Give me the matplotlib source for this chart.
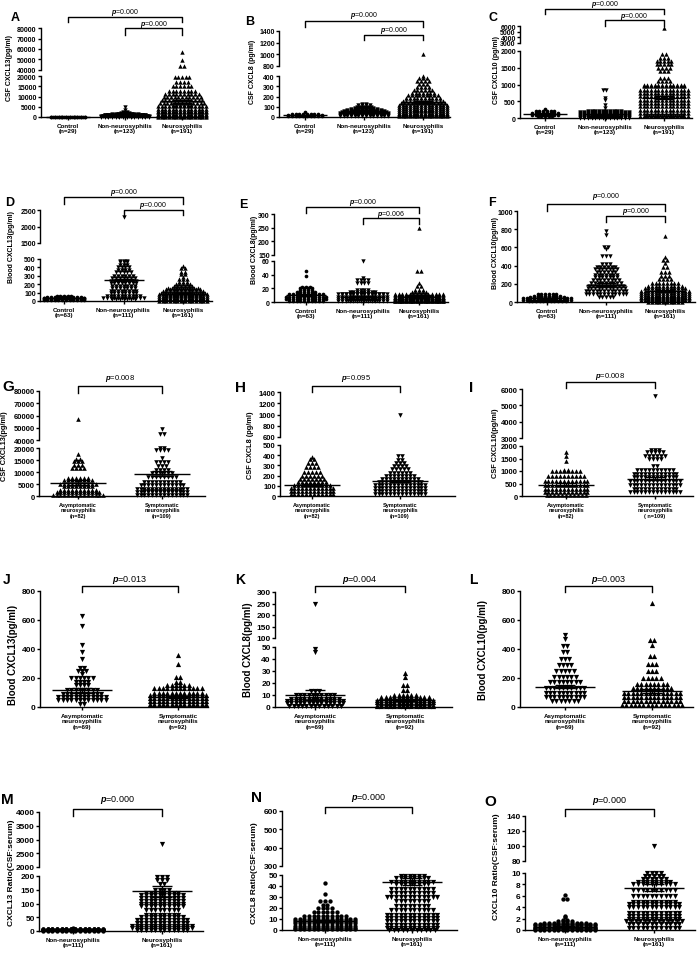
import numpy as np
import matplotlib
matplotlib.use('Agg')
import matplotlib.pyplot as plt
from matplotlib.transforms import blended_transform_factory

plt.rcParams['font.family'] = ['Liberation Sans', 'DejaVu Sans']
plt.rcParams['font.weight'] = 'bold'
plt.rcParams['mathtext.fontset'] = 'custom'
plt.rcParams['mathtext.it'] = 'Liberation Sans:italic'
plt.rcParams['mathtext.rm'] = 'Liberation Sans'

# ---------------- data (rows of the column scatter: value levels and counts) ----------------
three_csf = ['Control\n(n=29)', 'Non-neurosyphilis\n(n=123)', 'Neurosyphilis\n(n=191)']
three_blood = ['Control\n(n=63)', 'Non-neurosyphilis\n(n=111)', 'Neurosyphilis\n(n=161)']
asym_sym_csf = ['Asymptomatic\nneurosyphilis\n(n=82)', 'Symptomatic\nneurosyphilis\n(n=109)']
asym_sym_csf_i = ['Asymptomatic\nneurosyphilis\n(n=82)', 'Symptomatic\nneurosyphilis\n( n=109)']
asym_sym_blood = ['Asymptomatic\nneurosyphilis\n(n=69)', 'Symptomatic\nneurosyphilis\n(n=92)']
ratio_labels = ['Non-neurosyphilis\n(n=111)', 'Neurosyphilis\n(n=161)']

a_levels = [[0, 100, 200],
            [0, 150, 300, 450, 600, 750, 900, 1100, 1300, 1600, 2000, 2600, 3500, 4800],
            [0, 500, 1000, 1500, 2500, 3000, 4000, 5500, 6000, 7000, 8500, 10000, 11500,
             13000, 15000, 17000, 19500, 44000, 49000, 57000]]
a_counts = [[10, 10, 9],
            [14, 14, 14, 13, 13, 12, 12, 10, 8, 5, 3, 2, 1, 1],
            [14, 14, 14, 14, 14, 14, 14, 14, 6, 13, 12, 11, 10, 8, 6, 4, 5, 2, 1, 1]]
a_mean = [100, 550, 7800]
a_sem = [20, 80, 700]

b_levels = [[5, 15, 25, 50],
            [5, 15, 25, 35, 45, 55, 60, 65, 75, 85, 100, 115, 130],
            [5, 20, 30, 40, 60, 70, 80, 100, 120, 140, 160, 185, 210, 235, 260, 290, 320,
             350, 380, 400, 1000]]
b_counts = [[10, 10, 8, 1],
            [14, 14, 14, 14, 13, 12, 7, 10, 8, 6, 5, 4, 2],
            [14, 14, 14, 14, 14, 6, 14, 14, 14, 13, 12, 10, 9, 7, 6, 4, 3, 4, 3, 1, 1]]
b_mean = [15, 38, 145]
b_sem = [2, 3, 8]

c_levels = [[50, 100, 130, 150, 200, 280],
            [10, 25, 40, 70, 100, 130, 160, 190, 220, 300, 400, 550, 600, 850],
            [50, 100, 150, 250, 350, 450, 550, 650, 750, 850, 950, 1000, 1100, 1200, 1400,
             1500, 1600, 1700, 1800, 1900, 5600]]
c_counts = [[5, 8, 1, 8, 6, 1],
            [14, 9, 14, 14, 14, 14, 14, 14, 10, 1, 1, 1, 1, 2],
            [14, 11, 14, 14, 14, 14, 14, 14, 14, 14, 12, 12, 4, 3, 3, 4, 5, 5, 3, 2, 1]]
c_mean = [130, 110, 600]
c_sem = [10, 12, 45]

d_levels = [[10, 20, 30, 40, 50, 60],
            [20, 40, 60, 90, 120, 150, 180, 210, 240, 270, 300, 340, 370, 400, 430, 460, 480, 2300],
            [5, 20, 30, 40, 60, 70, 80, 100, 120, 140, 160, 180, 200, 230, 260, 290, 320, 350,
             390, 420]]
d_counts = [[12, 12, 12, 12, 10, 5],
            [7, 12, 10, 8, 8, 7, 7, 8, 8, 7, 6, 5, 4, 4, 3, 3, 3, 1],
            [14, 14, 12, 14, 14, 10, 14, 13, 12, 10, 9, 6, 5, 3, 3, 1, 2, 2, 2, 1]]
d_mean = [30, 250, 85]
d_sem = [2, 15, 7]

e_levels = [[2, 5, 8, 11, 14, 18, 20, 22, 38, 45],
            [2, 3, 5, 6, 8, 11, 12, 14, 18, 28, 32, 35, 60],
            [1, 2, 3, 4, 5, 6, 7, 8, 9, 10, 12, 15, 18, 24, 28, 46, 250]]
e_counts = [[10, 12, 12, 10, 6, 4, 4, 3, 1, 1],
            [14, 9, 14, 12, 14, 14, 12, 8, 4, 4, 4, 1, 1],
            [14, 14, 14, 14, 14, 14, 14, 14, 7, 14, 14, 5, 3, 2, 1, 2, 1]]
e_mean = [10, 8, 8]
e_sem = [1, 0.8, 1.6]

f_levels = [[10, 25, 40, 55, 70, 90],
            [60, 90, 120, 150, 180, 210, 240, 270, 300, 330, 360, 390, 420, 510, 580, 600, 740, 780],
            [5, 20, 30, 40, 60, 70, 80, 100, 120, 150, 180, 210, 250, 290, 330, 380, 430, 460,
             490, 720]]
f_counts = [[11, 14, 14, 10, 8, 6],
            [5, 12, 12, 11, 10, 9, 8, 7, 7, 6, 7, 6, 3, 3, 1, 2, 1, 1],
            [10, 14, 10, 14, 14, 10, 14, 14, 14, 12, 10, 8, 4, 3, 3, 2, 1, 2, 1, 1]]
f_mean = [40, 190, 120]
f_sem = [3, 15, 9]

g_levels = [[500, 1500, 2500, 4000, 5000, 6500, 7500, 11500, 13000, 14500, 15500, 17500, 57000],
            [500, 1500, 2200, 3000, 4500, 6000, 8000, 9500, 11000, 12500, 14000, 16000, 19000,
             20000, 45000, 49000]]
g_counts = [[14, 12, 10, 8, 10, 8, 6, 4, 3, 3, 2, 1, 1],
            [14, 14, 10, 14, 12, 10, 8, 6, 4, 3, 4, 1, 4, 2, 2, 1]]
g_mean = [5500, 9300]
g_sem = [1000, 1100]

h_levels = [[20, 50, 80, 110, 140, 170, 200, 240, 280, 320, 360, 380],
            [20, 50, 80, 110, 140, 170, 200, 230, 260, 290, 320, 350, 390, 1000]]
h_counts = [[12, 12, 12, 10, 8, 7, 6, 5, 4, 3, 2, 1],
            [14, 14, 14, 14, 12, 10, 8, 6, 5, 4, 3, 2, 2, 1]]
h_mean = [110, 145]
h_sem = [10, 12]

i_levels = [[50, 150, 300, 450, 600, 800, 1000, 1050, 1400, 1600, 1750],
            [150, 300, 450, 600, 750, 900, 1050, 1200, 1500, 1600, 1750, 1850, 5600]]
i_counts = [[11, 12, 12, 12, 12, 10, 8, 2, 1, 1, 1],
            [14, 12, 14, 14, 12, 12, 10, 2, 4, 6, 5, 3, 1]]
i_mean = [460, 700]
i_sem = [45, 70]

j_levels = [[20, 45, 70, 90, 120, 150, 170, 200, 230, 250, 270, 330, 380, 430, 560, 630],
            [20, 40, 60, 80, 100, 130, 150, 170, 210, 295, 360]]
j_counts = [[2, 12, 12, 10, 8, 4, 4, 6, 1, 3, 2, 1, 1, 1, 1, 1],
            [14, 14, 14, 14, 12, 12, 6, 2, 2, 1, 1]]
j_mean = [115, 70]
j_sem = [15, 7]

k_levels = [[1, 3, 5, 7, 10, 13, 46, 48, 250],
            [1, 2, 3, 4, 6, 8, 10, 14, 18, 25, 28]]
k_counts = [[13, 14, 14, 12, 10, 3, 1, 1, 1],
            [14, 14, 12, 14, 14, 12, 6, 2, 2, 1, 1]]
k_mean = [10, 6]
k_sem = [4, 0.8]

l_levels = [[40, 70, 100, 130, 170, 210, 250, 290, 330, 380, 420, 470, 500],
            [15, 40, 70, 100, 130, 160, 200, 250, 300, 350, 430, 460, 720]]
l_counts = [[7, 10, 10, 10, 8, 6, 5, 4, 3, 2, 2, 1, 1],
            [15, 14, 14, 14, 10, 8, 5, 3, 3, 2, 1, 2, 1]]
l_mean = [140, 110]
l_sem = [12, 12]

m_levels = [[1, 2, 3, 4, 5, 6, 7, 8, 12],
            [3, 10, 20, 30, 40, 50, 60, 75, 90, 100, 110, 120, 130, 140, 150, 170, 185, 195, 2850]]
m_counts = [[14, 14, 14, 14, 14, 14, 14, 12, 1],
            [12, 14, 14, 12, 12, 10, 8, 8, 10, 10, 10, 10, 10, 8, 4, 2, 3, 3, 1]]
m_mean = [3, 145]
m_sem = [0.3, 20]

n_levels = [[1, 2, 4, 6, 8, 10, 13, 16, 20, 23, 26, 33, 43],
            [0, 2, 5, 8, 11, 14, 18, 22, 26, 30, 34, 37, 42, 44, 47, 49]]
n_counts = [[14, 14, 14, 14, 14, 14, 10, 6, 4, 2, 3, 1, 1],
            [11, 12, 12, 12, 12, 12, 10, 8, 8, 12, 10, 10, 8, 10, 8, 6]]
n_mean = [8, 44]
n_sem = [0.7, 3]

o_levels = [[0.05, 0.2, 0.3, 0.4, 0.6, 0.8, 1.0, 1.2, 1.5, 1.8, 2.2, 2.5, 5.5, 6.1],
            [0.3, 1, 1.5, 2, 2.5, 3, 4, 4.5, 5, 6, 7, 8, 8.5, 9, 9.5, 10, 100]]
o_counts = [[14, 14, 6, 14, 14, 14, 14, 10, 4, 2, 1, 1, 2, 1],
            [12, 12, 13, 12, 12, 12, 12, 12, 10, 10, 10, 10, 8, 6, 5, 4, 1]]
o_mean = [0.6, 7.4]
o_sem = [0.1, 0.6]

# ---------------- layout ----------------
W, H = 700, 954
fig = plt.figure(figsize=(W / 100, H / 100), dpi=100)

ROW = {
    1: dict(tick=5, ylab=5, xlab=4.5, p=5, letter=9, ms=10, step=3.7, half=22),
    2: dict(tick=5, ylab=5, xlab=4.5, p=5, letter=9, ms=10, step=3.7, half=20),
    3: dict(tick=5.5, ylab=5.3, xlab=4, p=5.5, letter=11, ms=11, step=3.9, half=28),
    4: dict(tick=6, ylab=7, xlab=4.5, p=6.5, letter=10, ms=14, step=4.3, half=30),
    5: dict(tick=6, ylab=6, xlab=4.5, p=6.5, letter=11, ms=14, step=4.6, half=30),
}

LW = 1.0


def add_px_axes(x0, x1, ybot, ytop):
    return fig.add_axes([x0 / W, 1 - ybot / H, (x1 - x0) / W, (ybot - ytop) / H])


def panel(sp):
    st = ROW[sp['row']]
    x0, x1 = sp['x']
    gx = sp['gx']
    n = len(gx)
    s = (gx[-1] - gx[0]) / (n - 1)
    xlim = (-(gx[0] - x0) / s, n - 1 + (x1 - gx[-1]) / s)
    axs = []
    for k, (lo, hi, ybot, ytop, ticks) in enumerate(sp['segs']):
        ax = add_px_axes(x0, x1, ybot, ytop)
        ax.set_xlim(*xlim)
        ax.set_ylim(lo, hi)
        ax.patch.set_alpha(0)
        ax.spines['top'].set_visible(False)
        ax.spines['right'].set_visible(False)
        ax.spines['left'].set_linewidth(LW)
        ax.spines['bottom'].set_linewidth(LW)
        ax.set_yticks(ticks)
        ax.tick_params(axis='y', labelsize=st['tick'], length=2, width=LW, pad=1)
        if k == 0:
            ax.set_xticks(range(n))
            ax.set_xticklabels(sp['labels'], fontsize=st['xlab'], linespacing=1.15)
            ax.tick_params(axis='x', length=2, width=LW, pad=2)
        else:
            ax.spines['bottom'].set_visible(False)
            ax.set_xticks([])
        axs.append(ax)

    lower_hi = sp['segs'][0][1]

    def pick(v):
        return axs[0] if v <= lower_hi or len(axs) == 1 else axs[1]

    for g in range(n):
        mk = sp['markers'][g]
        size = st['ms'] * (0.7 if mk == 'o' else 1.0)
        for v, c in zip(sp['levels'][g], sp['counts'][g]):
            xs = g + (np.arange(c) - (c - 1) / 2) * st['step'] / s
            pick(v).scatter(xs, np.full(c, v), marker=mk, s=size, c='k', linewidths=0,
                            clip_on=False, zorder=3)
        m, e = sp['mean'][g], sp['sem'][g]
        ax = pick(m)
        hw, cw = st['half'] / s, 10 / s
        kw = dict(color='k', lw=LW, zorder=4, clip_on=False, solid_capstyle='butt')
        ax.plot([g - hw, g + hw], [m, m], **kw)
        ax.plot([g, g], [m - e, m + e], **kw)
        ax.plot([g - cw, g + cw], [m + e, m + e], **kw)
        ax.plot([g - cw, g + cw], [m - e, m - e], **kw)

    top = axs[-1]
    tr = blended_transform_factory(top.transData, fig.transFigure)
    for i, j, yl, yg, yt, p in sp['brackets']:
        top.plot([i, i, j, j], [1 - yg / H, 1 - yl / H, 1 - yl / H, 1 - yg / H],
                 transform=tr, color='k', lw=1.0, clip_on=False)
        top.text((i + j) / 2, 1 - yt / H, r'$p$=' + p, transform=tr, ha='center',
                 va='center', fontsize=st['p'], fontweight='normal')

    lx, ly = sp['ylab_xy']
    fig.text(lx / W, 1 - ly / H, sp['ylabel'], rotation=90, ha='center', va='center',
             fontsize=st['ylab'])
    px, py = sp['letter_xy']
    fig.text(px / W, 1 - py / H, sp['letter'], ha='center', va='center',
             fontsize=st['letter'])


tri3 = ['o', 'v', '^']
specs = [
    dict(letter='A', row=1, x=(40.7, 202), gx=[68, 127, 182], labels=three_csf,
         segs=[(0, 20000, 118, 77.3, [0, 5000, 10000, 15000, 20000]),
               (40000, 80000, 70.7, 29.3, [40000, 50000, 60000, 70000, 80000])],
         levels=a_levels, counts=a_counts, mean=a_mean, sem=a_sem, markers=tri3,
         brackets=[(0, 2, 18.3, 23.3, 12.7, '0.000'), (1, 2, 29.3, 35.7, 25, '0.000')],
         ylabel='CSF CXCL13(pg/ml)', ylab_xy=(10, 68), letter_xy=(15, 18)),
    dict(letter='B', row=1, x=(279, 450), gx=[305, 359, 423], labels=three_csf,
         segs=[(0, 400, 118, 77, [0, 100, 200, 300, 400]),
               (800, 1400, 67, 32, [800, 1000, 1200, 1400])],
         levels=b_levels, counts=b_counts, mean=b_mean, sem=b_sem, markers=tri3,
         brackets=[(0, 2, 22.3, 28, 15.7, '0.000'), (1, 2, 36, 40.7, 30, '0.000')],
         ylabel='CSF CXCL8 (pg/ml)', ylab_xy=(253, 72), letter_xy=(250, 22)),
    dict(letter='C', row=1, x=(520, 692), gx=[545, 600, 664], labels=three_csf,
         segs=[(0, 2000, 119, 52, [0, 500, 1000, 1500, 2000]),
               (3000, 6000, 44, 27, [3000, 4000, 5000, 6000])],
         levels=c_levels, counts=c_counts, mean=c_mean, sem=c_sem, markers=tri3,
         brackets=[(0, 2, 10, 15, 4, '0.000'), (1, 2, 21, 26.7, 16, '0.000')],
         ylabel='CSF CXCL10 (pg/ml)', ylab_xy=(497, 70), letter_xy=(493, 18)),
    dict(letter='D', row=2, x=(40, 212), gx=[64, 125, 183], labels=three_blood,
         segs=[(0, 500, 302, 260, [0, 100, 200, 300, 400, 500]),
               (1500, 2500, 244, 211, [1500, 2000, 2500])],
         levels=d_levels, counts=d_counts, mean=d_mean, sem=d_sem, markers=tri3,
         brackets=[(0, 2, 197.7, 205, 193, '0.000'), (1, 2, 210.7, 216, 205.7, '0.000')],
         ylabel='Blood CXCL13(pg/ml)', ylab_xy=(12, 247), letter_xy=(10, 203)),
    dict(letter='E', row=2, x=(274, 448), gx=[306, 362, 419], labels=three_blood,
         segs=[(0, 60, 303, 262, [0, 20, 40, 60]),
               (150, 300, 256, 215, [150, 200, 250, 300])],
         levels=e_levels, counts=e_counts, mean=e_mean, sem=e_sem, markers=tri3,
         brackets=[(0, 2, 208.3, 214, 202, '0.000'), (1, 2, 219, 225, 214, '0.006')],
         ylabel='Blood CXCL8(pg/ml)', ylab_xy=(254, 250), letter_xy=(243, 205)),
    dict(letter='F', row=2, x=(517, 695), gx=[547, 607, 665], labels=three_blood,
         segs=[(0, 1000, 303, 212, [0, 200, 400, 600, 800, 1000])],
         levels=f_levels, counts=f_counts, mean=f_mean, sem=f_sem, markers=tri3,
         brackets=[(0, 2, 205, 211.7, 197, '0.000'), (1, 2, 216.7, 223, 211.7, '0.000')],
         ylabel='Blood CXCL10(pg/ml)', ylab_xy=(495, 253), letter_xy=(492, 203)),
    dict(letter='G', row=3, x=(39, 205), gx=[78, 162], labels=asym_sym_csf,
         segs=[(0, 20000, 497, 449, [0, 5000, 10000, 15000, 20000]),
               (40000, 80000, 441, 392, [40000, 50000, 60000, 70000, 80000])],
         levels=g_levels, counts=g_counts, mean=g_mean, sem=g_sem, markers=['^', 'v'],
         brackets=[(0, 1, 387.3, 394, 378, '0.008')],
         ylabel='CSF CXCL13(pg/ml)', ylab_xy=(5, 446), letter_xy=(8, 387)),
    dict(letter='H', row=3, x=(280, 455), gx=[312, 400], labels=asym_sym_csf,
         segs=[(0, 500, 497, 446, [0, 100, 200, 300, 400, 500]),
               (600, 1400, 438, 393, [600, 800, 1000, 1200, 1400])],
         levels=h_levels, counts=h_counts, mean=h_mean, sem=h_sem, markers=['^', 'v'],
         brackets=[(0, 1, 387, 393, 378, '0.095')],
         ylabel='CSF CXCL8 (pg/ml)', ylab_xy=(250, 445), letter_xy=(240, 388)),
    dict(letter='I', row=3, x=(522, 693), gx=[566, 655], labels=asym_sym_csf_i,
         segs=[(0, 2000, 497, 447, [0, 500, 1000, 1500, 2000]),
               (3000, 6000, 439, 390, [3000, 4000, 5000, 6000])],
         levels=i_levels, counts=i_counts, mean=i_mean, sem=i_sem, markers=['^', 'v'],
         brackets=[(0, 1, 383, 389, 377, '0.008')],
         ylabel='CSF CXCL10(pg/ml)', ylab_xy=(496, 443), letter_xy=(471, 388)),
    dict(letter='J', row=4, x=(40, 208), gx=[82, 178], labels=asym_sym_blood,
         segs=[(0, 800, 708, 592, [0, 200, 400, 600, 800])],
         levels=j_levels, counts=j_counts, mean=j_mean, sem=j_sem, markers=['v', '^'],
         brackets=[(0, 1, 586.7, 593, 580, '0.013')],
         ylabel='Blood CXCL13(pg/ml)', ylab_xy=(13, 655), letter_xy=(7, 580)),
    dict(letter='K', row=4, x=(275, 452), gx=[315, 405], labels=asym_sym_blood,
         segs=[(0, 50, 708, 648, [0, 10, 20, 30, 40, 50]),
               (100, 300, 639, 593, [100, 150, 200, 250, 300])],
         levels=k_levels, counts=k_counts, mean=k_mean, sem=k_sem, markers=['v', '^'],
         brackets=[(0, 1, 587, 593, 580, '0.004')],
         ylabel='Blood CXCL8(pg/ml)', ylab_xy=(248, 650), letter_xy=(240, 580)),
    dict(letter='L', row=4, x=(520, 693), gx=[565, 652], labels=asym_sym_blood,
         segs=[(0, 800, 708, 592, [0, 200, 400, 600, 800])],
         levels=l_levels, counts=l_counts, mean=l_mean, sem=l_sem, markers=['v', '^'],
         brackets=[(0, 1, 587, 593, 580, '0.003')],
         ylabel='Blood CXCL10(pg/ml)', ylab_xy=(483, 650), letter_xy=(473, 580)),
    dict(letter='M', row=5, x=(39, 203), gx=[73, 162], labels=ratio_labels,
         segs=[(0, 200, 932, 877, [0, 50, 100, 150, 200]),
               (2000, 4000, 868, 813, [2000, 2500, 3000, 3500, 4000])],
         levels=m_levels, counts=m_counts, mean=m_mean, sem=m_sem, markers=['o', 'v'],
         brackets=[(0, 1, 810, 817, 800, '0.000')],
         ylabel='CXCL13 Ratio(CSF:serum)', ylab_xy=(12, 873), letter_xy=(7, 800)),
    dict(letter='N', row=5, x=(282, 457), gx=[325, 412], labels=ratio_labels,
         segs=[(0, 50, 931, 876, [0, 10, 20, 30, 40, 50]),
               (300, 600, 867, 812, [300, 400, 500, 600])],
         levels=n_levels, counts=n_counts, mean=n_mean, sem=n_sem, markers=['o', 'v'],
         brackets=[(0, 1, 807.7, 814, 798, '0.000')],
         ylabel='CXCL8 Ratio(CSF:serum)', ylab_xy=(255, 873), letter_xy=(257, 798)),
    dict(letter='O', row=5, x=(525, 695), gx=[565, 654], labels=ratio_labels,
         segs=[(0, 10, 931, 874, [0, 2, 4, 6, 8, 10]),
               (80, 140, 862, 817, [80, 100, 120, 140])],
         levels=o_levels, counts=o_counts, mean=o_mean, sem=o_sem, markers=['o', 'v'],
         brackets=[(0, 1, 810, 816.7, 800.7, '0.000')],
         ylabel='CXCL10 Ratio(CSF:serum)', ylab_xy=(497, 867), letter_xy=(490, 802)),
]

for sp in specs:
    panel(sp)

fig.savefig('out.png', dpi=100)
